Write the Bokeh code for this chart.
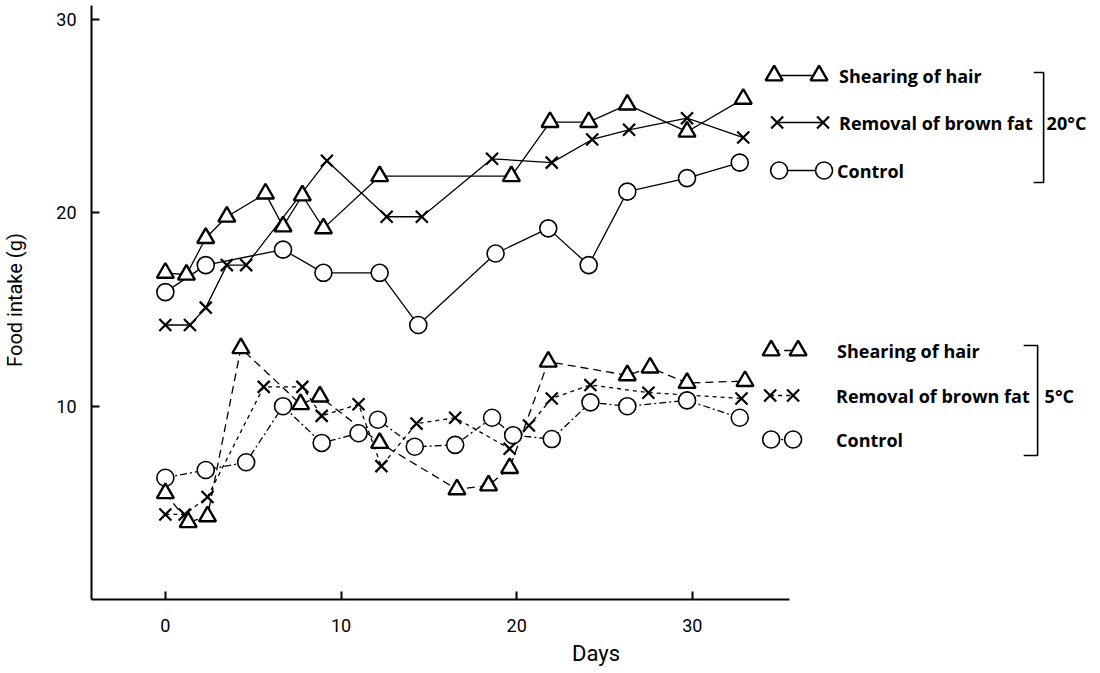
from bokeh.plotting import figure
from bokeh.models import Range1d, FixedTicker
from bokeh.embed import file_html
from bokeh.resources import INLINE
from bokeh.core.properties import value

# ---------------- data (days, food intake g) ----------------
# 20 degC
d20_hair = [0, 1.2, 2.3, 3.5, 5.7, 6.7, 7.8, 9.0, 12.2, 19.7, 21.9, 24.1, 26.3, 29.7, 32.9]
f20_hair = [16.9, 16.8, 18.7, 19.8, 21.0, 19.3, 20.9, 19.2, 21.9, 21.9, 24.7, 24.7, 25.6, 24.2, 25.9]

d20_fat = [0, 1.4, 2.3, 3.5, 4.6, 9.2, 12.6, 14.6, 18.6, 22.0, 24.3, 26.4, 29.7, 32.9]
f20_fat = [14.2, 14.2, 15.1, 17.3, 17.3, 22.7, 19.8, 19.8, 22.8, 22.6, 23.8, 24.3, 24.9, 23.9]

d20_ctrl = [0, 2.3, 6.7, 9.0, 12.2, 14.4, 18.8, 21.8, 24.1, 26.3, 29.7, 32.7]
f20_ctrl = [15.9, 17.3, 18.1, 16.9, 16.9, 14.2, 17.9, 19.2, 17.3, 21.1, 21.8, 22.6]

# 5 degC
d5_hair = [0, 1.3, 2.4, 4.3, 7.7, 8.8, 12.2, 16.6, 18.4, 19.6, 21.8, 26.3, 27.6, 29.7, 33.0]
f5_hair = [5.5, 4.0, 4.3, 13.0, 10.1, 10.5, 8.1, 5.7, 5.9, 6.8, 12.3, 11.6, 12.0, 11.2, 11.3]

d5_fat = [0, 1.1, 2.4, 5.6, 7.8, 8.9, 11.0, 12.3, 14.3, 16.5, 19.6, 20.7, 22.0, 24.2, 27.5, 32.8]
f5_fat = [4.4, 4.4, 5.3, 11.0, 11.0, 9.5, 10.1, 6.9, 9.1, 9.4, 7.8, 9.0, 10.4, 11.1, 10.7, 10.4]

d5_ctrl = [0, 2.3, 4.6, 6.7, 8.9, 11.0, 12.1, 14.2, 16.5, 18.6, 19.8, 22.0, 24.2, 26.3, 29.7, 32.7]
f5_ctrl = [6.3, 6.7, 7.1, 10.0, 8.1, 8.6, 9.3, 7.9, 8.0, 9.4, 8.5, 8.3, 10.2, 10.0, 10.3, 9.4]

x_ticks = [0, 10, 20, 30]
y_ticks = [10, 20, 30]
series_names = ["Shearing of hair", "Removal of brown fat", "Control"]
group_names = ["20\u00b0C", "5\u00b0C"]

# ---------------- layout helpers (pixel -> data, for legend placement only) ----------------
PX0, PXD = 163.0, 17.6      # x pixel of day 0, pixels per day
PY0, PYU = 599.0, 19.33     # y pixel of 0 g, pixels per g
def sx(px):
    return (px - PX0) / PXD
def sy(py):
    return (PY0 - py) / PYU

W, H = 1100, 673
p = figure(width=W, height=H, output_backend="svg", toolbar_location=None,
           x_range=Range1d(sx(89), sx(1100)), y_range=Range1d(0, sy(0)),
           min_border_left=89, min_border_right=0, min_border_top=0, min_border_bottom=74,
           background_fill_color="white", border_fill_color="white")
p.outline_line_color = None
p.grid.grid_line_color = None

tick_font = "Roboto"

for ax in (p.xaxis[0], p.yaxis[0]):
    ax.axis_line_width = 2
    ax.axis_line_color = "black"
    ax.major_tick_in = 8
    ax.major_tick_out = 0
    ax.major_tick_line_width = 2
    ax.minor_tick_line_color = None
    ax.major_label_text_font = tick_font
    ax.major_label_text_font_size = "18px"
    ax.major_label_text_color = "black"
    ax.axis_label_text_font = tick_font
    ax.axis_label_text_font_style = "normal"
    ax.axis_label_text_color = "black"

p.xaxis.ticker = FixedTicker(ticks=x_ticks)
p.yaxis.ticker = FixedTicker(ticks=y_ticks)
p.xaxis.bounds = (sx(89), sx(788))
p.yaxis.bounds = (0, sy(5))
p.xaxis.major_label_standoff = 19
p.yaxis.major_label_standoff = 15
p.xaxis.axis_label = "Days"
p.xaxis.axis_label_text_font_size = "22px"
p.xaxis.axis_label_standoff = 6
p.yaxis.axis_label = "Food intake (g)"
p.yaxis.axis_label_text_font_size = "20px"
p.yaxis.axis_label_standoff = 26
p.yaxis.major_label_orientation = "horizontal"

LW = 1.3
tri = dict(marker="triangle", size=17, line_width=2.4, line_color="black", fill_color="white")
xx = dict(marker="x", size=17, line_width=2.2, line_color="black")
cir = dict(marker="circle", size=17, line_width=1.6, line_color="black", fill_color="white")

dash_h, dash_f, dash_c = "8 5", "4 4", "7 3 2 3"

# ---------------- connecting lines ----------------
p.line(d20_hair, f20_hair, line_color="black", line_width=LW)
p.line(d20_fat, f20_fat, line_color="black", line_width=LW)
p.line(d20_ctrl, f20_ctrl, line_color="black", line_width=LW)
p.line(d5_hair, f5_hair, line_color="black", line_width=LW, line_dash=dash_h)
p.line(d5_fat, f5_fat, line_color="black", line_width=LW, line_dash=dash_f)
p.line(d5_ctrl, f5_ctrl, line_color="black", line_width=LW, line_dash=dash_c)

# ---------------- markers ----------------
p.scatter(d20_ctrl, f20_ctrl, **cir)
p.scatter(d5_ctrl, f5_ctrl, **cir)
p.scatter(d20_fat, f20_fat, **xx)
p.scatter(d5_fat, f5_fat, **xx)
p.scatter(d20_hair, f20_hair, **tri)
p.scatter(d5_hair, f5_hair, **tri)

# ---------------- hand-drawn style legend ----------------
LFONT = value("Open Sans")
LSIZE = "18px"

def legend_row(x1, x2, ypx, style, dash, label, tx):
    y = sy(ypx)
    kw = dict(line_color="black", line_width=LW)
    if dash:
        kw["line_dash"] = dash
    p.line([sx(x1), sx(x2)], [y, y], **kw)
    p.scatter([sx(x1), sx(x2)], [y, y], **style)
    p.text([sx(tx)], [y], text=[label], text_font=LFONT, text_font_style="bold",
           text_font_size=LSIZE, text_baseline="middle", text_align="left", text_color="black")

# 20 degC block
legend_row(773, 818, 75, tri, None, series_names[0], 838)
legend_row(776, 822, 122, xx, None, series_names[1], 838)
legend_row(778, 823, 170, cir, None, series_names[2], 836)
p.line([sx(1033), sx(1043), sx(1043), sx(1033)], [sy(72), sy(72), sy(182), sy(182)],
       line_color="black", line_width=1.6)
p.text([sx(1046)], [sy(122)], text=[group_names[0]], text_font=LFONT, text_font_style="bold",
       text_font_size=LSIZE, text_baseline="middle", text_align="left", text_color="black")

# 5 degC block
legend_row(770, 797, 350, tri, dash_h, series_names[0], 836)
legend_row(769, 792, 395, xx, dash_f, series_names[1], 835)
legend_row(770, 792, 439, cir, dash_c, series_names[2], 835)
p.line([sx(1023), sx(1037), sx(1037), sx(1023)], [sy(345), sy(345), sy(455), sy(455)],
       line_color="black", line_width=1.6)
p.text([sx(1044)], [sy(395)], text=[group_names[1]], text_font=LFONT, text_font_style="bold",
       text_font_size=LSIZE, text_baseline="middle", text_align="left", text_color="black")

open("out.html", "w").write(file_html(p, INLINE))
